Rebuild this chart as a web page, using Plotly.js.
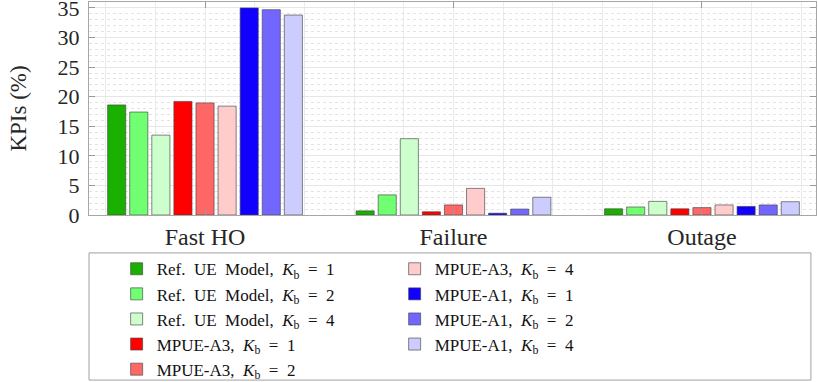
<!DOCTYPE html>
<html>
<head>
<meta charset="utf-8">
<script src="https://cdn.plot.ly/plotly-3.0.1.min.js"></script>
<style>
  body { margin: 0; background: #fff; }
</style>
</head>
<body>
<div id="myGraph" style="width:818px;height:382px;"></div>
<script>
// categories on the x axis and their positions
const categories = ["Fast HO", "Failure", "Outage"];
const catPos = [1, 2, 3];

// KPI values (%) per configuration
const refK1 = [18.6, 0.7, 1.05];
const refK2 = [17.4, 3.4, 1.35];
const refK4 = [13.5, 12.9, 2.3];
const a3K1 = [19.2, 0.55, 1.05];
const a3K2 = [18.95, 1.7, 1.25];
const a3K4 = [18.4, 4.5, 1.7];
const a1K1 = [35.0, 0.3, 1.45];
const a1K2 = [34.7, 1.0, 1.7];
const a1K4 = [33.8, 3.0, 2.25];

const seriesNames = [
  "Ref.&nbsp; UE&nbsp; Model,&nbsp; <i>K</i><sub>b</sub>&nbsp; =&nbsp; 1",
  "Ref.&nbsp; UE&nbsp; Model,&nbsp; <i>K</i><sub>b</sub>&nbsp; =&nbsp; 2",
  "Ref.&nbsp; UE&nbsp; Model,&nbsp; <i>K</i><sub>b</sub>&nbsp; =&nbsp; 4",
  "MPUE-A3,&nbsp; <i>K</i><sub>b</sub>&nbsp; =&nbsp; 1",
  "MPUE-A3,&nbsp; <i>K</i><sub>b</sub>&nbsp; =&nbsp; 2",
  "MPUE-A3,&nbsp; <i>K</i><sub>b</sub>&nbsp; =&nbsp; 4",
  "MPUE-A1,&nbsp; <i>K</i><sub>b</sub>&nbsp; =&nbsp; 1",
  "MPUE-A1,&nbsp; <i>K</i><sub>b</sub>&nbsp; =&nbsp; 2",
  "MPUE-A1,&nbsp; <i>K</i><sub>b</sub>&nbsp; =&nbsp; 4"
];
const seriesValues = [refK1, refK2, refK4, a3K1, a3K2, a3K4, a1K1, a1K2, a1K4];
const seriesColors = [
  "#1ab000", "#70ff70", "#ccffcc",
  "#ff0000", "#ff6666", "#ffcccc",
  "#1100ff", "#7366ff", "#ccccff"
];
// legend is filled row by row, so rank the entries to read column by column
const legendRanks = [1, 3, 5, 7, 9, 2, 4, 6, 8];

const font = "Liberation Serif, Times New Roman, serif";
const textColor = "#262626";

let dataArray = [];
for (let i = 0; i < seriesValues.length; i++) {
  dataArray.push({
    x: catPos,
    y: seriesValues[i],
    type: "bar",
    name: seriesNames[i],
    legendrank: legendRanks[i],
    marker: {
      color: seriesColors[i],
      line: { color: "rgba(70,70,70,0.65)", width: 1 }
    }
  });
}

var layout = {
  width: 818,
  height: 382,
  margin: { l: 89, r: 2, t: 2, b: 167, autoexpand: false },
  paper_bgcolor: "#fff",
  plot_bgcolor: "#fff",
  barmode: "group",
  bargap: 0.2,
  bargroupgap: 0.18,
  font: { family: font, color: textColor },
  showlegend: true,
  legend: {
    orientation: "h",
    x: 0.038,
    xanchor: "left",
    y: -0.17,
    yanchor: "top",
    entrywidth: 233,
    traceorder: "normal",
    bgcolor: "rgba(0,0,0,0)",
    borderwidth: 0,
    font: { family: font, size: 17, color: "#111" }
  },
  xaxis: {
    range: [0.533, 3.459],
    tickvals: catPos,
    ticktext: categories,
    tickfont: { size: 24, color: textColor },
    ticks: "inside",
    ticklen: 6,
    tickcolor: "#999",
    ticklabelstandoff: 0,
    showline: true,
    linecolor: "#a6a6a6",
    linewidth: 1,
    mirror: "ticks",
    showgrid: true,
    gridcolor: "#ebebeb",
    minor: { dtick: 0.2, tick0: 0, showgrid: true, gridcolor: "#ebebeb", ticks: "" },
    zeroline: false,
    automargin: false,
    fixedrange: true
  },
  yaxis: {
    range: [0, 36],
    dtick: 5,
    tickfont: { size: 22, color: textColor },
    ticks: "inside",
    ticklen: 6,
    tickcolor: "#999",
    ticklabeloverflow: "allow",
    ticklabelstandoff: 4,
    showline: true,
    linecolor: "#a6a6a6",
    linewidth: 1,
    mirror: "ticks",
    showgrid: true,
    gridcolor: "#e6e6e6",
    minor: { dtick: 1, showgrid: true, gridcolor: "#e3e3e3", griddash: "dot", ticks: "" },
    zeroline: false,
    title: { text: "KPIs (%)", font: { size: 23, color: textColor }, standoff: 24 },
    automargin: false,
    fixedrange: true
  },
  shapes: [
    {
      type: "rect",
      xref: "paper",
      yref: "paper",
      x0: 0,
      x1: 0.993,
      y0: -0.178,
      y1: -0.775,
      line: { color: "#a0a0a0", width: 1 },
      fillcolor: "rgba(0,0,0,0)"
    }
  ]
};

Plotly.newPlot("myGraph", dataArray, layout, { displayModeBar: false, staticPlot: true });
</script>
</body>
</html>
